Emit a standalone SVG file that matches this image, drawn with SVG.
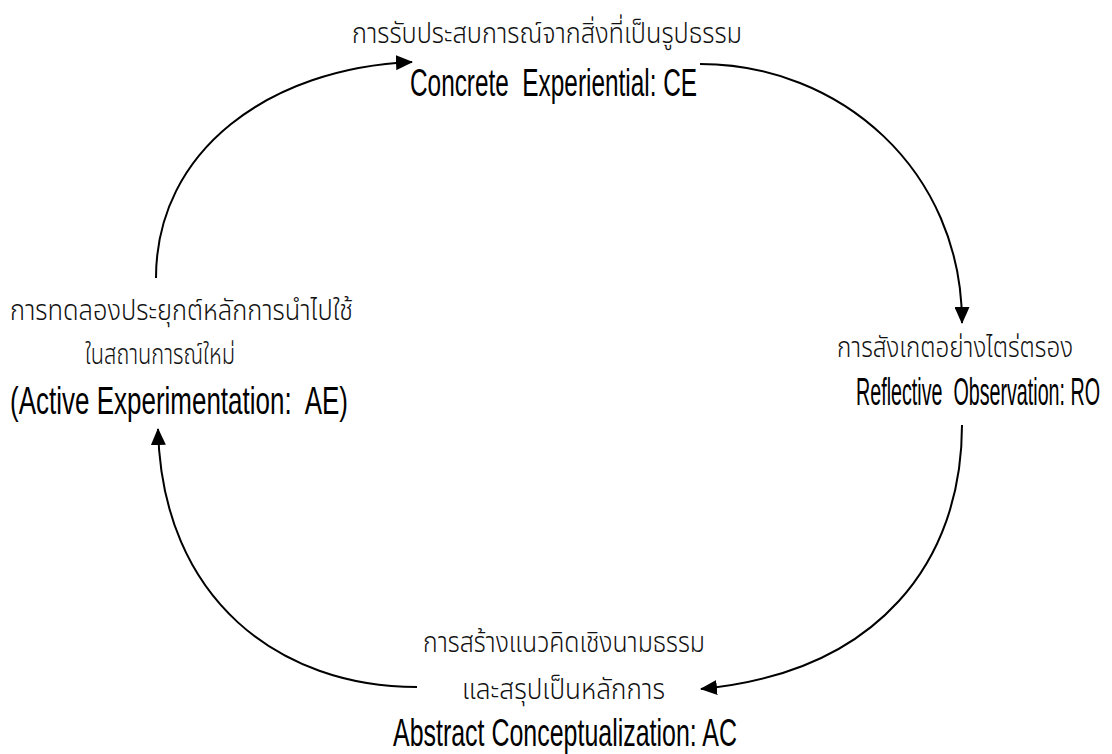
<svg xmlns="http://www.w3.org/2000/svg" width="1112" height="754" viewBox="0 0 1112 754">
<style>
.th{font-family:"Noto Sans Thai","Noto Sans","DejaVu Sans",sans-serif;font-size:29px;font-weight:300;fill:#111;}
.en{font-family:"Liberation Sans Narrow","Liberation Sans",sans-serif;font-size:39px;fill:#000;white-space:pre;}
.c{fill:none;stroke:#000;stroke-width:2;}
</style>
<defs>
<marker id="ah" markerWidth="17" markerHeight="15" refX="16" refY="7.5" orient="auto" markerUnits="userSpaceOnUse">
<path d="M0,0 L17,7.5 L0,15 Z" fill="#000"/>
</marker>
</defs>
<g id="connectors">
<path class="c" d="M156,278 C156,150 270,68 412,62" marker-end="url(#ah)"/>
<path class="c" d="M700,64 C840,64 962,170 962,323" marker-end="url(#ah)"/>
<path class="c" d="M962,425 C962,560 880,672 701,689" marker-end="url(#ah)"/>
<path class="c" d="M417,687 C280,687 162,600 158,429" marker-end="url(#ah)"/>
</g>
<g id="node-ce">
<text class="th" x="352" y="43" textLength="390" lengthAdjust="spacingAndGlyphs">การรับประสบการณ์จากสิ่งที่เป็นรูปธรรม</text>
<text class="en" x="410" y="96" textLength="287" lengthAdjust="spacingAndGlyphs" xml:space="preserve">Concrete  Experiential: CE</text>
</g>
<g id="node-ro">
<text class="th" x="837" y="357" textLength="236" lengthAdjust="spacingAndGlyphs">การสังเกตอย่างไตร่ตรอง</text>
<text class="en" x="856" y="405" textLength="244" lengthAdjust="spacingAndGlyphs" xml:space="preserve">Reflective  Observation: RO</text>
</g>
<g id="node-ac">
<text class="th" x="423" y="652" textLength="282" lengthAdjust="spacingAndGlyphs">การสร้างแนวคิดเชิงนามธรรม</text>
<text class="th" x="462" y="699" textLength="203" lengthAdjust="spacingAndGlyphs">และสรุปเป็นหลักการ</text>
<text class="en" x="393" y="746" textLength="344" lengthAdjust="spacingAndGlyphs">Abstract Conceptualization: AC</text>
</g>
<g id="node-ae">
<text class="th" x="10" y="320" textLength="343" lengthAdjust="spacingAndGlyphs">การทดลองประยุกต์หลักการนำไปใช้</text>
<text class="th" x="85" y="364" textLength="150" lengthAdjust="spacingAndGlyphs">ในสถานการณ์ใหม่</text>
<text class="en" x="10" y="414" textLength="338" lengthAdjust="spacingAndGlyphs" xml:space="preserve">(Active Experimentation:  AE)</text>
</g>
</svg>
